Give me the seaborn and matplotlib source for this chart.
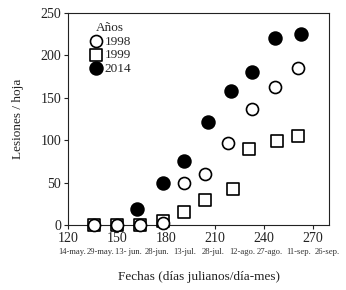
import numpy as np
import pandas as pd
import matplotlib
matplotlib.use("Agg")
import matplotlib.pyplot as plt
import seaborn as sns

# Data (julian day, lesions per leaf)
days_1998 = [136, 150, 164, 178, 191, 204, 218, 233, 247, 261]
les_1998 = [0, 0, 0, 2, 49, 60, 97, 137, 163, 185]
days_1999 = [136, 150, 164, 178, 191, 204, 221, 231, 248, 261]
les_1999 = [0, 0, 0, 5, 15, 30, 42, 90, 99, 105]
days_2014 = [162, 178, 191, 206, 220, 233, 247, 263]
les_2014 = [19, 50, 75, 122, 158, 181, 220, 225]

x_ticks = [120, 150, 180, 210, 240, 270]
y_ticks = [0, 50, 100, 150, 200, 250]
date_labels = ["14-may.", "29-may.", "13- jun.", "28-jun.", "13-jul.", "28-jul.",
               "12-ago.", "27-ago.", "11-sep.", "26-sep."]

sns.set_style("ticks")
plt.rcParams["font.family"] = ["Liberation Serif", "DejaVu Serif"]

fig = plt.figure(figsize=(3.46, 2.90), dpi=100)
ax = fig.add_axes([0.1965, 0.224, 0.7545, 0.731])

df98 = pd.DataFrame({"dia": days_1998, "les": les_1998})
df99 = pd.DataFrame({"dia": days_1999, "les": les_1999})
df14 = pd.DataFrame({"dia": days_2014, "les": les_2014})

ms = 75
sns.scatterplot(data=df99, x="dia", y="les", marker="s", s=ms + 10, facecolor="white",
                edgecolor="black", linewidth=1.2, ax=ax, label="1999", clip_on=False, zorder=3)
sns.scatterplot(data=df98, x="dia", y="les", marker="o", s=ms, facecolor="white",
                edgecolor="black", linewidth=1.2, ax=ax, label="1998", clip_on=False, zorder=4)
sns.scatterplot(data=df14, x="dia", y="les", marker="o", s=ms + 10, facecolor="black",
                edgecolor="black", linewidth=1.2, ax=ax, label="2014", clip_on=False, zorder=5)

ax.set_xlim(120, 280)
ax.set_ylim(0, 250)
ax.set_xticks(x_ticks)
ax.set_yticks(y_ticks)
ax.tick_params(labelsize=10, length=3, width=0.8, colors="#222222", pad=2)
for s in ax.spines.values():
    s.set_linewidth(0.8)
    s.set_color("#222222")

ax.set_xlabel("Fechas (días julianos/día-mes)", fontsize=9.5, labelpad=19, color="#222222")
ax.set_ylabel("Lesiones / hoja", fontsize=9.5, labelpad=12, color="#222222")

pos = np.linspace(122.4, 278.6, len(date_labels))
for p, lab in zip(pos, date_labels):
    ax.text(p, -0.11, lab, transform=ax.get_xaxis_transform(), ha="center", va="top",
            fontsize=6.2, color="#333333", clip_on=False)

h, l = ax.get_legend_handles_labels()
order = [l.index("1998"), l.index("1999"), l.index("2014")]
leg = ax.legend([h[i] for i in order], [l[i] for i in order], title="Años", loc="upper left",
                frameon=False, fontsize=9.5, title_fontsize=9.5, handletextpad=0.1,
                labelspacing=0.1, borderaxespad=0.3, markerscale=1.0, handlelength=1.2,
                bbox_to_anchor=(0.04, 1.0))

fig.savefig("out.png", dpi=100)
